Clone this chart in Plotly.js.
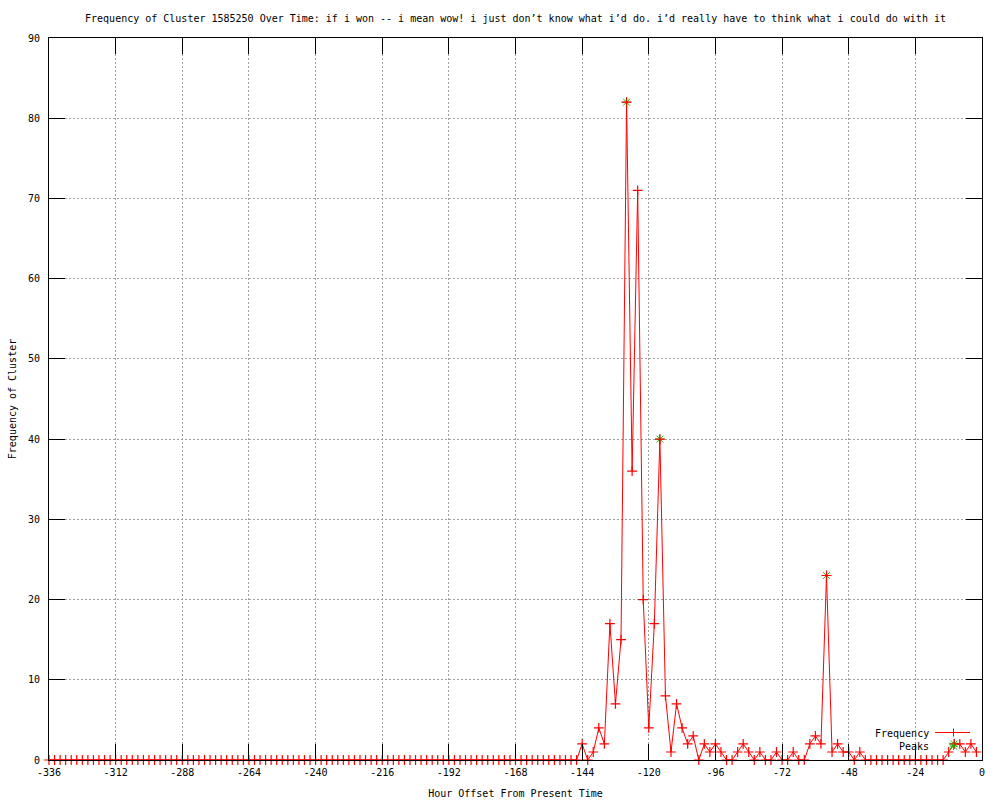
<!DOCTYPE html>
<html>
<head>
<meta charset="utf-8">
<script src="https://cdn.plot.ly/plotly-3.0.1.min.js"></script>
<style>html,body{margin:0;padding:0;background:#fff;}#chart{width:1000px;height:800px;}</style>
</head>
<body>
<div id="chart"></div>
<script>
// Hour offsets (every 2 hours)
const hours = [
  -336,-334,-332,-330,-328,-326,-324,-322,-320,-318,-316,-314,
  -312,-310,-308,-306,-304,-302,-300,-298,-296,-294,-292,-290,
  -288,-286,-284,-282,-280,-278,-276,-274,-272,-270,-268,-266,
  -264,-262,-260,-258,-256,-254,-252,-250,-248,-246,-244,-242,
  -240,-238,-236,-234,-232,-230,-228,-226,-224,-222,-220,-218,
  -216,-214,-212,-210,-208,-206,-204,-202,-200,-198,-196,-194,
  -192,-190,-188,-186,-184,-182,-180,-178,-176,-174,-172,-170,
  -168,-166,-164,-162,-160,-158,-156,-154,-152,-150,-148,-146,
  -144,-142,-140,-138,-136,-134,-132,-130,-128,-126,-124,-122,
  -120,-118,-116,-114,-112,-110,-108,-106,-104,-102,-100,-98,
  -96,-94,-92,-90,-88,-86,-84,-82,-80,-78,-76,-74,
  -72,-70,-68,-66,-64,-62,-60,-58,-56,-54,-52,-50,
  -48,-46,-44,-42,-40,-38,-36,-34,-32,-30,-28,-26,
  -24,-22,-20,-18,-16,-14,-12,-10,-8,-6,-4,-2
];
const frequency = [
  0,0,0,0,0,0,0,0,0,0,0,0,
  0,0,0,0,0,0,0,0,0,0,0,0,
  0,0,0,0,0,0,0,0,0,0,0,0,
  0,0,0,0,0,0,0,0,0,0,0,0,
  0,0,0,0,0,0,0,0,0,0,0,0,
  0,0,0,0,0,0,0,0,0,0,0,0,
  0,0,0,0,0,0,0,0,0,0,0,0,
  0,0,0,0,0,0,0,0,0,0,0,0,
  2,0,1,4,2,17,7,15,82,36,71,20,
  4,17,40,8,1,7,4,2,3,0,2,1,
  2,1,0,0,1,2,1,0,1,0,0,1,
  0,0,1,0,0,2,3,2,23,1,2,1,
  1,0,1,0,0,0,0,0,0,0,0,0,
  0,0,0,0,0,0,1,2,2,1,2,1
];
const peakHours = [-128, -116, -56, -10];
const peakValues = [82, 40, 23, 2];

const xTickVals = [-336,-312,-288,-264,-240,-216,-192,-168,-144,-120,-96,-72,-48,-24,0];
const xTickText = ["-336","-312","-288","-264","-240","-216","-192","-168","-144","-120","-96","-72","-48","-24","0"];
const yTickVals = [0,10,20,30,40,50,60,70,80,90];
const seriesNames = ["Frequency", "Peaks"];

const FONT = "DejaVu Sans Mono, monospace";
const RED = "#ff0000", GREEN = "#00c000";

const traces = [
  {
    x: peakHours, y: peakValues, name: seriesNames[1], type: "scatter", mode: "markers",
    marker: {symbol: "asterisk-open", size: 8, color: GREEN, line: {color: GREEN, width: 1}},
    cliponaxis: false, showlegend: false
  },
  {
    x: hours, y: frequency, name: seriesNames[0], type: "scatter", mode: "lines+markers",
    line: {color: RED, width: 1},
    marker: {symbol: "cross-thin-open", size: 7, color: RED, line: {color: RED, width: 1.2}},
    cliponaxis: false, showlegend: false
  }
];

// Plot area in pixels (for the gnuplot-style key drawn at its right)
const PL = 49, PR = 982, PT = 38, PB = 760;
const px = v => (v - PL) / (PR - PL);
const py = v => (PB - v) / (PB - PT);

function seg(x0, y0, x1, y1, color) {
  return {type: "line", xref: "paper", yref: "paper", x0: px(x0), y0: py(y0), x1: px(x1), y1: py(y1),
          line: {color: color, width: 1}};
}
const keyShapes = [
  // Frequency sample: line + cross
  seg(935, 732.5, 970, 732.5, RED),
  seg(953.5, 728.5, 953.5, 736.5, RED),
  // Peaks sample: asterisk
  seg(950, 742.5, 957, 749.5, GREEN),
  seg(950, 749.5, 957, 742.5, GREEN),
  seg(949.5, 746, 957.5, 746, GREEN),
  seg(953.5, 742, 953.5, 750, GREEN)
];
const keyAnn = [
  {text: seriesNames[0], xref: "paper", yref: "paper", x: px(931), y: py(733), xanchor: "right", yanchor: "middle",
   showarrow: false, font: {family: FONT, size: 10, color: "#000"}},
  {text: seriesNames[1], xref: "paper", yref: "paper", x: px(931), y: py(746), xanchor: "right", yanchor: "middle",
   showarrow: false, font: {family: FONT, size: 10, color: "#000"}}
];

const axisCommon = {
  showline: true, linecolor: "#000", linewidth: 1, mirror: "ticks",
  ticks: "inside", ticklen: 16, tickcolor: "#000", tickwidth: 1,
  showgrid: true, gridcolor: "#a0a0a0", griddash: "2px,2px", gridwidth: 1,
  zeroline: false, tickfont: {family: FONT, size: 10, color: "#000"}
};

const layout = {
  width: 1000, height: 800,
  paper_bgcolor: "#fff", plot_bgcolor: "#fff",
  margin: {l: PL, r: 1000 - PR, t: PT, b: 800 - PB},
  title: {
    text: "Frequency of Cluster 1585250 Over Time: if i won -- i mean wow! i just don’t know what i’d do. i’d really have to think what i could do with it",
    font: {family: FONT, size: 10, color: "#000"},
    x: 0.5, xref: "paper", y: 1 - 18/800, yanchor: "middle"
  },
  xaxis: Object.assign({}, axisCommon, {
    range: [-336, 0], tickmode: "array", tickvals: xTickVals, ticktext: xTickText, ticklabelstandoff: 3,
    title: {text: "Hour Offset From Present Time", font: {family: FONT, size: 10, color: "#000"}, standoff: 12}
  }),
  yaxis: Object.assign({}, axisCommon, {
    range: [0, 90], tickmode: "array", tickvals: yTickVals, ticklabelstandoff: 6,
    title: {text: "Frequency of Cluster", font: {family: FONT, size: 10, color: "#000"}, standoff: 9}
  }),
  showlegend: false,
  shapes: keyShapes,
  annotations: keyAnn
};

Plotly.newPlot("chart", traces, layout, {displayModeBar: false, staticPlot: true});
</script>
</body>
</html>
